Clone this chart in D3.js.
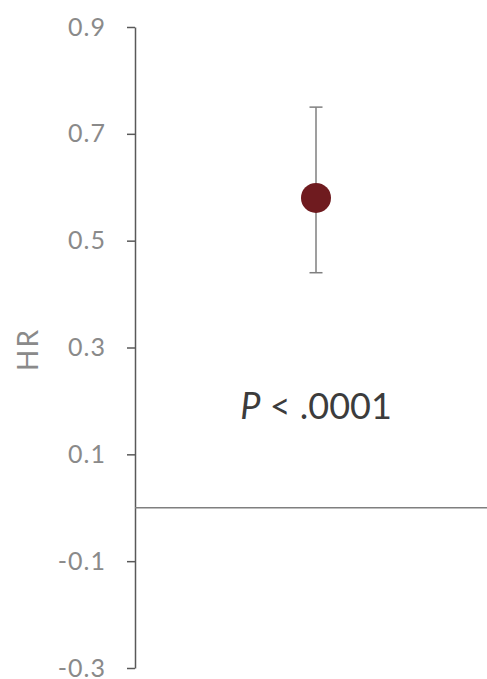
<!DOCTYPE html>
<html>
<head>
<meta charset="utf-8">
<script src="https://cdn.jsdelivr.net/npm/d3@7"></script>
<style>
  html, body { margin: 0; padding: 0; background: #fff; }
  svg { display: block; }
</style>
</head>
<body>
<svg id="chart" width="487" height="679"></svg>
<script>
// ---- data ----
const groups = ["HR"];
const hrValues = [0.58];
const ciLower = [0.44];
const ciUpper = [0.75];
const yTicks = [-0.3, -0.1, 0.1, 0.3, 0.5, 0.7, 0.9];
const yTickLabels = ["-0.3", "-0.1", "0.1", "0.3", "0.5", "0.7", "0.9"];
const pLabel = ["P", " < .0001"];
const yTitle = "HR";

const svg = d3.select("#chart");
const W = 487, H = 679;
const margin = { left: 135, right: 0, top: 27, bottom: 11 };

const y = d3.scaleLinear().domain([-0.3, 0.9]).range([H - margin.bottom, margin.top]);
const x = d3.scalePoint().domain(groups).range([margin.left, W + 10]).padding(0.5);

const font = "Lato, 'Open Sans', sans-serif";

// y axis
const yAxis = d3.axisLeft(y)
  .tickValues(yTicks)
  .tickFormat((d, i) => yTickLabels[i])
  .tickSize(8)
  .tickSizeOuter(0)
  .tickPadding(21);

const gy = svg.append("g").attr("transform", `translate(${margin.left},0)`).call(yAxis);
gy.select(".domain").attr("stroke", "#595959").attr("stroke-width", 1.5);
gy.selectAll(".tick line").attr("stroke", "#595959").attr("stroke-width", 1.5);
gy.selectAll(".tick text")
  .attr("fill", "#8a8a8a")
  .style("font-family", font)
  .style("font-size", "25px")
  .style("letter-spacing", "1px");

// zero reference line
svg.append("line")
  .attr("x1", margin.left).attr("x2", W)
  .attr("y1", y(0)).attr("y2", y(0))
  .attr("stroke", "#7f7f7f").attr("stroke-width", 1.5);

// y title
svg.append("text")
  .attr("transform", `translate(38,${(y(-0.3) + y(0.9)) / 2 + 2}) rotate(-90)`)
  .attr("text-anchor", "middle")
  .attr("fill", "#8a8a8a")
  .style("font-family", font)
  .style("font-size", "28px")
  .style("letter-spacing", "2px")
  .text(yTitle);

// error bars
const eb = svg.append("g");
groups.forEach((g, i) => {
  const cx = x(g);
  eb.append("line").attr("x1", cx).attr("x2", cx)
    .attr("y1", y(ciUpper[i])).attr("y2", y(ciLower[i]))
    .attr("stroke", "#7f7f7f").attr("stroke-width", 1.5);
  [ciUpper[i], ciLower[i]].forEach(v => {
    eb.append("line").attr("x1", cx - 6.5).attr("x2", cx + 6.5)
      .attr("y1", y(v)).attr("y2", y(v))
      .attr("stroke", "#7f7f7f").attr("stroke-width", 1.5);
  });
});

// points
svg.append("g").selectAll("circle")
  .data(groups)
  .join("circle")
  .attr("cx", d => x(d))
  .attr("cy", (d, i) => y(hrValues[i]))
  .attr("r", 15)
  .attr("fill", "#6f1b1f");

// p-value annotation
const pt = svg.append("text")
  .attr("x", x(groups[0]))
  .attr("y", 419)
  .attr("text-anchor", "middle")
  .attr("fill", "#3c3c3c")
  .style("font-family", font)
  .style("font-size", "36px");
pt.append("tspan").style("font-style", "italic").text(pLabel[0]);
pt.append("tspan").text(pLabel[1]);
</script>
</body>
</html>
